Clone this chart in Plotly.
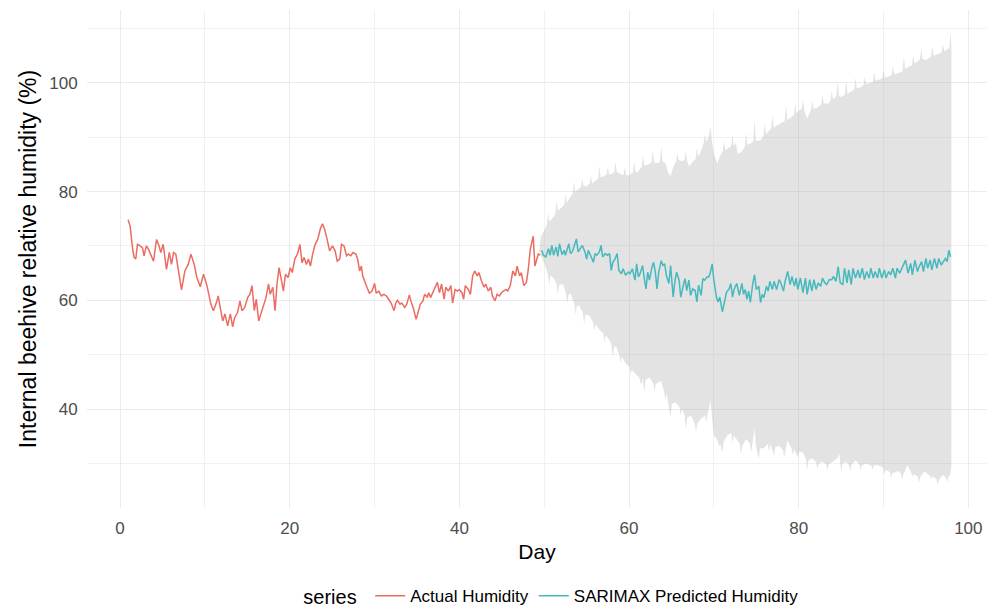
import plotly.graph_objects as go

# ---------------- data ----------------
actual_day = [0.94, 1.18, 1.46, 1.65, 1.85, 2.05, 2.36, 2.64, 2.83, 3.1, 3.35, 3.6, 3.94, 4.3, 4.6, 4.8,
              5.08, 5.47, 5.8, 6.06, 6.3, 6.57, 6.77, 7.24, 7.64, 8.03, 8.35, 8.74, 9.05, 9.45, 9.84,
              10.24, 10.7, 11.0, 11.3, 11.57, 11.8, 12.1, 12.36, 12.68, 13.0, 13.27, 13.5, 13.86, 14.13,
              14.37, 14.7, 15.04, 15.3, 15.55, 15.83, 16.06, 16.34, 16.6, 16.9, 17.2, 17.5, 17.7, 18.0,
              18.27, 18.5, 18.74, 19.0, 19.25, 19.5, 19.8, 20.07, 20.3, 20.6, 20.9, 21.2, 21.45, 21.7,
              21.96, 22.2, 22.44, 22.7, 23.0, 23.3, 23.6, 23.86, 24.1, 24.37, 24.7, 25.04, 25.35, 25.6,
              25.9, 26.1, 26.4, 26.7, 26.9, 27.2, 27.46, 27.8, 28.0, 28.24, 28.44, 28.6, 28.9, 29.1,
              29.4, 29.7, 30.0, 30.2, 30.5, 30.8, 31.1, 31.4, 31.7, 31.95, 32.3, 32.5, 32.7, 33.0, 33.2,
              33.55, 33.8, 34.1, 34.3, 34.6, 34.9, 35.1, 35.4, 35.7, 35.9, 36.2, 36.4, 36.6, 36.9, 37.15,
              37.4, 37.65, 37.9, 38.2, 38.4, 38.7, 39.0, 39.2, 39.5, 39.77, 40.0, 40.3, 40.5, 40.7, 41.05,
              41.3, 41.56, 41.8, 42.1, 42.3, 42.6, 42.9, 43.1, 43.4, 43.7, 43.9, 44.2, 44.45, 44.7, 44.96,
              45.2, 45.5, 45.7, 46.0, 46.3, 46.6, 46.8, 47.1, 47.3, 47.6, 47.9, 48.1, 48.36, 48.7, 48.9,
              49.1, 49.3, 49.55]
actual_humidity = [74.8, 73.7, 69.7, 67.9, 67.6, 70.3, 70.0, 69.7, 68.2, 70.0, 69.4, 68.5, 67.2, 71.2, 70.0, 68.8,
                   70.3, 65.7, 68.8, 66.6, 68.8, 68.5, 66.3, 61.9, 65.4, 66.6, 68.5, 66.6, 64.2, 62.5, 64.8,
                   62.7, 59.3, 58.1, 59.3, 60.8, 58.7, 56.2, 57.5, 55.3, 57.5, 55.1, 56.8, 57.8, 59.9,
                   58.1, 58.7, 60.5, 61.1, 62.7, 58.1, 60.2, 56.2, 57.5, 59.3, 60.5, 63.0, 61.1, 62.4,
                   58.1, 63.0, 66.0, 63.9, 61.7, 64.8, 64.2, 66.0, 65.1, 67.6, 68.5, 70.3, 66.9, 67.9,
                   66.6, 67.6, 66.3, 68.5, 70.3, 71.2, 73.1, 74.1, 73.1, 71.5, 69.1, 70.0, 69.1, 67.2,
                   67.6, 70.3, 70.0, 68.2, 68.5, 68.2, 68.8, 68.5, 67.6, 65.4, 66.3, 64.5, 63.0, 62.4,
                   61.3, 61.7, 63.1, 61.3, 61.7, 60.8, 61.1, 60.8, 60.1, 59.5, 58.1, 59.5, 60.0, 59.3, 59.5,
                   58.7, 59.3, 61.0, 59.8, 58.4, 56.5, 57.5, 59.3, 59.9, 61.1, 60.6, 61.4, 60.5, 61.7, 62.4,
                   63.3, 61.4, 63.0, 60.2, 62.4, 61.7, 62.7, 59.5, 62.0, 61.7, 62.0, 61.4, 60.2, 62.7, 62.0,
                   61.1, 64.5, 65.4, 64.5, 65.1, 63.6, 62.4, 63.0, 61.7, 62.4, 60.8, 59.9, 61.1, 60.8, 61.4,
                   61.7, 62.0, 61.7, 62.7, 65.4, 64.5, 66.3, 64.5, 65.1, 62.7, 63.3, 65.4, 69.4, 71.8, 66.3,
                   67.2, 68.5, 68.3]

pred_day = [49.7, 49.9, 50.2, 50.5, 50.7, 50.9, 51.1, 51.4, 51.6, 51.8, 52.1, 52.35, 52.5, 52.9, 53.1, 53.3,
            53.5, 53.8, 54.0, 54.2, 54.5, 54.8, 55.0, 55.2, 55.5, 55.8, 56.0, 56.2, 56.5, 56.7, 56.9, 57.2,
            57.45, 57.7, 57.9, 58.1, 58.35, 58.6, 58.8, 59.1, 59.3, 59.6, 59.9, 60.1, 60.4, 60.7, 60.9,
            61.1, 61.3, 61.6, 61.8, 62.0, 62.2, 62.4, 62.7, 62.9, 63.1, 63.3, 63.5, 63.8, 64.0, 64.2,
            64.4, 64.7, 64.9, 65.2, 65.4, 65.6, 65.9, 66.1, 66.35, 66.6, 66.8, 67.05, 67.25, 67.5, 67.8,
            68.0, 68.2, 68.5, 68.7, 68.9, 69.2, 69.4, 69.6, 69.8, 70.0, 70.3, 70.5, 70.7, 71.0, 71.25,
            71.5, 71.8, 72.0, 72.2, 72.4, 72.7, 73.0, 73.3, 73.5, 73.7, 73.9, 74.1, 74.3, 74.6, 74.8,
            75.0, 75.3, 75.5, 75.7, 75.9, 76.2, 76.4, 76.6, 76.9, 77.1, 77.4, 77.7, 77.9, 78.2, 78.4,
            78.7, 79.0, 79.2, 79.5, 79.7, 79.9, 80.2, 80.5, 80.8, 81.0, 81.3, 81.55, 81.8, 82.05, 82.3,
            82.6, 82.8, 83.1, 83.3, 83.6, 83.9, 84.1, 84.4, 84.65, 84.9, 85.2, 85.4, 85.7, 85.9, 86.2,
            86.4, 86.7, 87.0, 87.2, 87.5, 87.75, 88.0, 88.3, 88.5, 88.8, 89.0, 89.3, 89.5, 89.8, 90.1,
            90.3, 90.6, 90.85, 91.1, 91.4, 91.6, 91.9, 92.1, 92.4, 92.6, 92.9, 93.2, 93.4, 93.7, 94.0,
            94.2, 94.5, 94.7, 95.0, 95.2, 95.5, 95.7, 96.0, 96.3, 96.5, 96.8, 97.05, 97.3, 97.5, 97.7,
            97.9]
pred_humidity = [69.2, 68.3, 68.0, 69.5, 68.3, 70.1, 68.3, 69.8, 68.1, 70.4, 68.4, 69.2, 68.3, 70.4, 68.6, 68.9,
                 69.8, 71.3, 68.9, 69.5, 70.1, 68.9, 67.6, 69.2, 68.0, 67.0, 68.6, 68.3, 68.9, 70.1, 68.0, 68.6,
                 68.3, 68.6, 65.5, 67.0, 67.6, 68.6, 65.5, 64.9, 65.8, 64.6, 65.2, 64.9, 65.8, 63.7, 66.7,
                 64.3, 64.9, 66.4, 64.0, 62.1, 65.2, 63.7, 66.1, 67.0, 65.2, 62.1, 65.2, 67.3, 66.4, 66.7,
                 64.6, 63.1, 66.4, 60.6, 63.4, 65.2, 63.7, 60.6, 62.4, 64.0, 61.8, 63.7, 60.9, 62.1, 61.8,
                 59.7, 62.8, 60.9, 64.0, 63.7, 64.3, 64.3, 65.2, 66.7, 63.7, 60.6, 59.7, 60.6, 57.9, 60.0,
                 61.5, 62.1, 63.1, 60.6, 62.1, 63.1, 60.9, 63.1, 61.1, 62.0, 60.2, 61.7, 59.6, 63.2, 64.7,
                 62.0, 62.6, 59.6, 61.1, 60.5, 62.6, 61.7, 63.5, 62.0, 63.5, 62.0, 63.8, 63.2, 61.7, 63.5,
                 65.3, 62.9, 64.4, 62.6, 64.1, 62.0, 64.1, 61.4, 64.1, 61.1, 63.8, 61.7, 63.8, 62.0, 63.2,
                 62.6, 64.1, 63.2, 62.9, 63.8, 63.8, 64.4, 63.5, 66.2, 63.2, 62.9, 65.9, 63.2, 65.6, 62.9,
                 65.9, 64.1, 65.6, 64.1, 65.9, 63.8, 65.3, 64.1, 65.9, 64.1, 65.3, 64.1, 65.9, 64.1, 65.6,
                 64.1, 65.3, 64.7, 65.9, 64.1, 65.9, 65.0, 65.6, 66.5, 67.4, 65.0, 66.8, 64.7, 67.4, 65.3,
                 66.2, 67.1, 65.3, 67.7, 65.9, 67.4, 65.6, 67.7, 65.9, 67.7, 66.5, 67.1, 67.7, 67.1, 69.2,
                 68.0]

upper_day = [49.6, 50.0, 50.3, 50.45, 50.6, 51.0, 51.3, 51.45, 51.6, 52.0, 52.35, 52.5, 52.65, 53.0, 53.35,
             53.5, 53.65, 54.0, 54.35, 54.5, 54.65, 55.0, 55.35, 55.5, 55.65, 56.0, 56.35, 56.5, 56.65,
             57.0, 57.35, 57.5, 57.65, 58.0, 58.25, 58.4, 58.55, 59.0, 59.35, 59.5, 59.65, 60.0, 60.45,
             60.6, 60.75, 61.0, 61.5, 61.65, 61.8, 62.3, 62.65, 62.8, 62.95, 63.3, 63.65, 63.8, 63.95,
             64.3, 64.6, 64.9, 65.2, 65.55, 65.7, 65.85, 66.2, 66.55, 66.7, 66.85, 67.1, 67.5, 67.85,
             68.0, 68.15, 68.5, 68.8, 68.95, 69.1, 69.4, 69.6, 69.8, 70.0, 70.4, 70.8, 71.05, 71.2,
             71.35, 71.8, 72.05, 72.2, 72.35, 72.6, 72.8, 73.2, 73.65, 73.8, 73.95, 74.4, 74.65, 74.8,
             74.95, 75.5, 75.85, 76.0, 76.15, 76.5, 76.75, 76.9, 77.05, 77.5, 78.35, 78.5, 78.65, 79.1,
             79.45, 79.6, 79.75, 80.1, 80.35, 80.5, 80.65, 81.0, 81.45, 81.6, 81.75, 82.2, 82.65, 82.8,
             82.95, 83.5, 83.75, 83.9, 84.05, 84.45, 84.6, 84.75, 85.0, 85.45, 85.6, 85.75, 86.1, 86.55,
             86.7, 86.85, 87.3, 87.65, 87.8, 87.95, 88.5, 88.75, 88.9, 89.05, 89.5, 89.85, 90.0, 90.15,
             90.7, 90.95, 91.1, 91.25, 91.8, 92.25, 92.4, 92.55, 93.0, 93.35, 93.5, 93.65, 94.1, 94.3,
             94.45, 94.6, 95.0, 95.6, 95.75, 95.9, 96.3, 96.85, 97.0, 97.15, 97.5, 97.75, 97.9, 98.0]
upper_humidity = [71.7, 73.0, 73.8, 76.0, 74.5, 75.2, 75.8, 78.2, 76.5, 77.0, 77.6, 79.5, 78.0, 78.8, 79.6,
                  81.8, 80.0, 80.4, 80.9, 82.3, 81.0, 81.0, 81.4, 83.0, 81.5, 82.0, 82.3, 84.8, 82.6,
                  82.8, 83.1, 84.6, 83.2, 83.3, 83.6, 85.4, 83.6, 83.2, 83.0, 84.5, 83.0, 83.0, 83.5,
                  85.6, 83.6, 83.6, 84.5, 86.6, 84.8, 85.0, 85.4, 87.6, 85.4, 85.2, 85.5, 88.4, 85.5,
                  85.2, 83.5, 82.8, 84.5, 85.6, 87.2, 85.8, 85.6, 85.8, 87.6, 85.6, 84.6, 85.5, 86.0,
                  88.0, 86.4, 87.5, 89.0, 90.5, 89.2, 90.0, 92.0, 89.0, 87.0, 85.2, 86.8, 87.4, 89.2,
                  87.6, 88.2, 88.4, 90.4, 88.4, 89.0, 87.0, 87.2, 88.2, 90.8, 88.6, 88.9, 89.2, 93.2,
                  89.4, 89.4, 90.2, 92.6, 90.6, 91.2, 91.6, 94.0, 91.8, 92.2, 93.0, 95.8, 93.2, 93.6,
                  94.2, 96.2, 94.4, 95.0, 95.2, 97.0, 95.0, 93.4, 95.0, 96.8, 95.2, 95.4, 96.0, 97.8,
                  96.2, 96.2, 96.8, 98.6, 97.0, 97.6, 100.2, 97.6, 97.4, 97.8, 100.4, 98.0, 98.4, 98.8,
                  101.0, 99.0, 99.2, 99.6, 101.2, 99.8, 100.0, 100.2, 102.0, 100.4, 100.6, 100.8, 102.4, 101.0,
                  101.2, 101.4, 103.0, 101.6, 101.8, 102.2, 104.9, 102.6, 103.0, 103.2, 105.0, 103.6, 104.0, 104.4,
                  106.2, 104.4, 104.2, 104.8, 106.8, 105.0, 105.2, 105.6, 107.2, 105.8, 106.2, 106.4, 109.2, 106.8]

lower_day = [49.4, 49.8, 50.2, 50.45, 50.6, 50.75, 51.2, 51.45, 51.6, 51.75, 52.2, 52.55, 52.7, 52.85,
             53.1, 53.55, 53.7, 53.85, 54.1, 54.55, 54.7, 54.85, 55.3, 55.75, 55.9, 56.05, 56.5, 56.95,
             57.1, 57.25, 57.8, 57.95, 58.1, 58.25, 58.5, 58.85, 59.0, 59.15, 59.6, 60.05, 60.2, 60.35,
             60.8, 61.2, 61.45, 61.6, 61.8, 61.95, 62.4, 62.85, 63.0, 63.15, 63.8, 64.15, 64.3, 64.45,
             64.9, 65.05, 65.5, 65.95, 66.1, 66.25, 66.55, 66.7, 66.85, 67.3, 67.75, 67.9, 68.05, 68.5,
             68.95, 69.1, 69.25, 69.6, 69.8, 70.0, 70.4, 70.6, 70.75, 71.0, 71.15, 71.6, 72.05, 72.2,
             72.35, 72.6, 73.05, 73.2, 73.35, 73.8, 74.25, 74.4, 74.55, 74.8, 74.95, 75.3, 75.45, 75.9,
             76.35, 76.5, 76.65, 77.1, 77.25, 77.7, 78.15, 78.3, 78.45, 78.7, 79.15, 79.3, 79.45, 79.9,
             80.05, 80.5, 80.85, 81.0, 81.15, 81.6, 82.05, 82.2, 82.35, 82.8, 83.25, 83.4, 83.55, 84.0,
             84.6, 84.8, 85.0, 85.15, 85.6, 85.95, 86.1, 86.25, 86.7, 87.15, 87.3, 87.45, 87.9, 88.55,
             88.7, 88.85, 89.3, 89.95, 90.1, 90.25, 90.75, 90.9, 91.05, 91.7, 92.05, 92.2, 92.35, 92.8,
             93.25, 93.4, 93.55, 94.05, 94.2, 94.35, 94.8, 95.45, 95.6, 95.75, 96.25, 96.4, 96.55, 97.0,
             97.35, 97.5, 97.65, 97.9, 98.0]
lower_humidity = [69.1, 67.6, 66.0, 64.6, 63.0, 64.6, 63.9, 63.0, 61.0, 62.8, 63.0, 61.4, 59.4, 61.0,
                  61.2, 59.4, 57.4, 59.0, 59.0, 57.8, 55.6, 57.4, 57.2, 56.0, 54.4, 55.6, 54.6, 54.0,
                  52.4, 53.6, 52.4, 51.6, 49.6, 51.6, 51.4, 50.0, 48.4, 49.6, 48.4, 47.8, 46.6, 47.2,
                  46.4, 45.8, 44.4, 45.6, 43.0, 45.4, 45.8, 44.8, 43.2, 44.6, 45.2, 43.0, 41.6, 42.8,
                  38.4, 41.0, 41.2, 40.4, 38.8, 40.0, 38.8, 36.2, 38.4, 38.8, 37.2, 35.8, 37.4, 38.2,
                  38.8, 37.6, 39.0, 41.5, 38.0, 35.2, 34.4, 33.2, 33.6, 32.0, 34.0, 35.2, 35.6, 33.8,
                  35.2, 34.5, 33.6, 31.6, 33.2, 34.5, 33.6, 32.0, 33.4, 36.4, 33.2, 30.8, 32.8, 32.8,
                  33.6, 32.2, 33.6, 31.4, 33.0, 33.2, 32.4, 31.0, 32.6, 34.2, 32.8, 31.6, 32.6, 31.2,
                  32.2, 32.0, 30.8, 28.8, 30.6, 30.9, 30.2, 29.0, 30.0, 30.3, 29.8, 28.8, 29.8, 30.3,
                  31.0, 31.8, 28.4, 30.0, 30.3, 29.6, 28.6, 29.8, 30.6, 29.8, 28.8, 29.6, 30.0, 29.6,
                  28.8, 29.6, 29.7, 29.2, 28.0, 28.8, 28.4, 27.4, 28.2, 28.6, 28.2, 27.0, 28.0, 29.7,
                  28.4, 27.6, 28.0, 27.6, 26.4, 27.6, 28.5, 27.8, 27.2, 27.6, 27.2, 26.0, 27.0, 27.9,
                  27.4, 26.6, 27.4, 28.2, 29.4]

x_ticks = [0, 20, 40, 60, 80, 100]
y_ticks = [40, 60, 80, 100]
series_names = ["Actual Humidity", "SARIMAX Predicted Humidity"]

# ---------------- figure ----------------
RED = "#EB6C62"
TEAL = "#45B9BD"
FONT = "Liberation Sans, Arial, sans-serif"

fig = go.Figure()

ribbon_x = upper_day + lower_day[::-1]
ribbon_y = upper_humidity + lower_humidity[::-1]
fig.add_trace(go.Scatter(x=ribbon_x, y=ribbon_y, fill="toself", fillcolor="rgba(170,170,170,0.33)",
                         line=dict(width=0, color="rgba(0,0,0,0)"), mode="lines",
                         showlegend=False, hoverinfo="skip"))

fig.add_trace(go.Scatter(x=actual_day, y=actual_humidity, mode="lines", name=series_names[0],
                         line=dict(color=RED, width=1.5)))
fig.add_trace(go.Scatter(x=pred_day, y=pred_humidity, mode="lines", name=series_names[1],
                         line=dict(color=TEAL, width=1.5)))

grid = "#EBEBEB"
fig.update_layout(
    width=987, height=609,
    margin=dict(l=87, r=0, t=10, b=101, autoexpand=False),
    paper_bgcolor="white", plot_bgcolor="white",
    font=dict(family=FONT, color="#000000"),
    xaxis=dict(range=[-3.9, 102.2], tickvals=x_ticks, ticktext=[str(v) for v in x_ticks],
               showgrid=True, gridcolor=grid, gridwidth=1.2, zeroline=False, showline=False,
               ticks="outside", ticklen=5, tickcolor="rgba(0,0,0,0)",
               tickfont=dict(size=17, color="#4D4D4D", family=FONT),
               minor=dict(showgrid=True, gridcolor="#F1F1F1", gridwidth=1, dtick=10, tick0=0),
               title=dict(text="Day", font=dict(size=21, color="#000000", family=FONT), standoff=6)),
    yaxis=dict(range=[21.8, 113.4], tickvals=y_ticks, ticktext=[str(v) for v in y_ticks],
               showgrid=True, gridcolor=grid, gridwidth=1.2, zeroline=False, showline=False,
               ticks="outside", ticklen=5, tickcolor="rgba(0,0,0,0)",
               tickfont=dict(size=17, color="#4D4D4D", family=FONT),
               minor=dict(showgrid=True, gridcolor="#F1F1F1", gridwidth=1, dtick=10, tick0=0),
               title=dict(text="Internal beehive relative humidity (%)",
                          font=dict(size=23, color="#000000", family=FONT), standoff=6)),
    legend=dict(orientation="h", x=0.517, xanchor="center", y=-0.177, yanchor="middle",
                title=dict(text="series ", font=dict(size=20, family=FONT), side="left"),
                font=dict(size=17, family=FONT), bgcolor="rgba(0,0,0,0)",
                itemwidth=30, tracegroupgap=0),
    showlegend=True,
)

fig.write_html("out.html")
